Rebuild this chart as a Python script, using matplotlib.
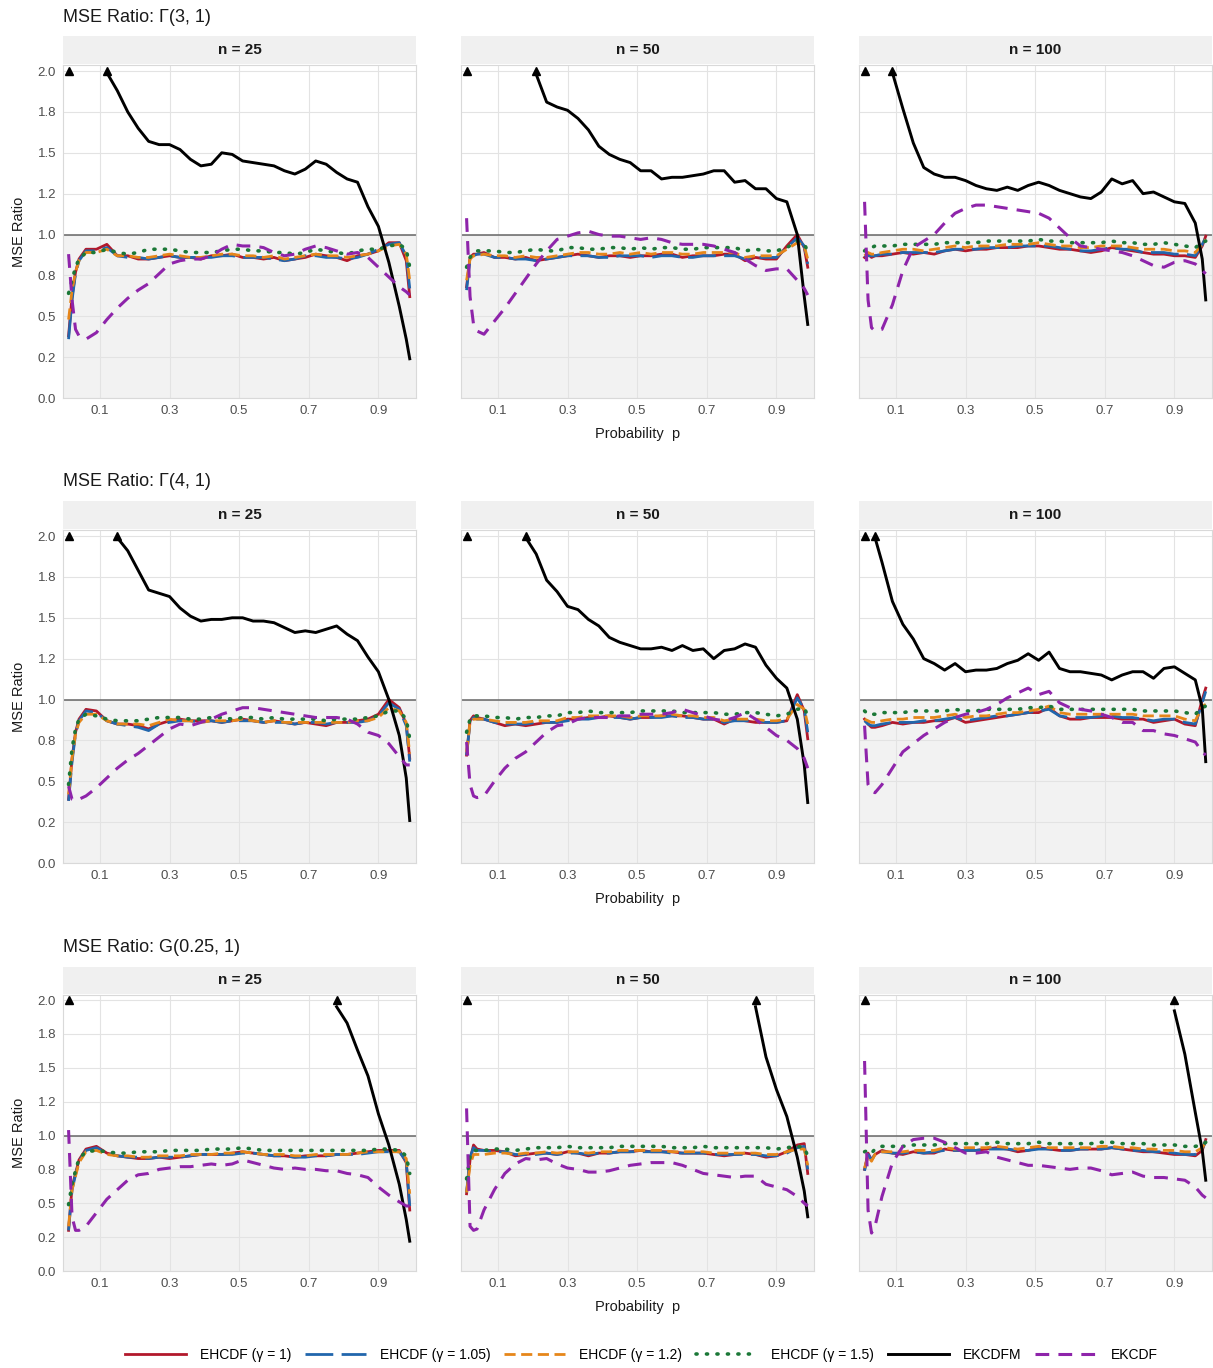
import matplotlib
matplotlib.use('Agg')
import matplotlib.pyplot as plt
from matplotlib import font_manager
from matplotlib.font_manager import FontProperties
from matplotlib.lines import Line2D

# fonts
names = {f.name for f in font_manager.fontManager.ttflist}
main_font = 'Liberation Sans' if 'Liberation Sans' in names else 'DejaVu Sans'
narrow_font = 'Liberation Sans Narrow' if 'Liberation Sans Narrow' in names else main_font
plt.rcParams['font.family'] = [main_font, 'DejaVu Sans']

# probability grid shared by every curve
P = [0.01, 0.02, 0.03, 0.04, 0.06, 0.09, 0.12, 0.15, 0.18, 0.21, 0.24, 0.27, 0.30,
     0.33, 0.36, 0.39, 0.42, 0.45, 0.48, 0.51, 0.54, 0.57, 0.60, 0.63, 0.66, 0.69,
     0.72, 0.75, 0.78, 0.81, 0.84, 0.87, 0.90, 0.93, 0.96, 0.98, 0.99]

# ---- Gamma(3, 1) ----
g31_n25_h100 = [0.38, 0.62, 0.77, 0.85, 0.91, 0.91, 0.94, 0.87, 0.87, 0.85, 0.85, 0.86, 0.87, 0.86, 0.86, 0.85, 0.87, 0.87, 0.88, 0.86, 0.86, 0.85, 0.86, 0.84, 0.85, 0.86, 0.88, 0.87, 0.86, 0.84, 0.87, 0.88, 0.90, 0.95, 0.95, 0.84, 0.62]
g31_n25_h105 = [0.36, 0.60, 0.76, 0.84, 0.90, 0.90, 0.92, 0.87, 0.86, 0.86, 0.85, 0.86, 0.87, 0.86, 0.86, 0.86, 0.86, 0.87, 0.87, 0.86, 0.86, 0.86, 0.85, 0.84, 0.85, 0.87, 0.87, 0.86, 0.86, 0.85, 0.86, 0.88, 0.91, 0.94, 0.95, 0.87, 0.67]
g31_n25_h120 = [0.48, 0.66, 0.77, 0.84, 0.89, 0.89, 0.91, 0.87, 0.87, 0.86, 0.86, 0.87, 0.88, 0.87, 0.86, 0.86, 0.87, 0.88, 0.88, 0.87, 0.87, 0.86, 0.87, 0.85, 0.86, 0.87, 0.88, 0.87, 0.87, 0.86, 0.87, 0.88, 0.90, 0.93, 0.94, 0.88, 0.72]
g31_n25_h150 = [0.64, 0.72, 0.80, 0.85, 0.89, 0.89, 0.91, 0.89, 0.88, 0.89, 0.91, 0.91, 0.91, 0.90, 0.89, 0.89, 0.89, 0.90, 0.91, 0.91, 0.90, 0.90, 0.89, 0.89, 0.88, 0.89, 0.91, 0.90, 0.89, 0.88, 0.90, 0.91, 0.91, 0.93, 0.94, 0.91, 0.80]
g31_n25_ekcdfm = [1.99, 1.88, 1.75, 1.65, 1.57, 1.55, 1.55, 1.52, 1.46, 1.42, 1.43, 1.50, 1.49, 1.45, 1.44, 1.43, 1.42, 1.39, 1.37, 1.40, 1.45, 1.43, 1.38, 1.34, 1.32, 1.17, 1.05, 0.83, 0.56, 0.36, 0.24]
g31_n25_ekcdf = [0.88, 0.60, 0.42, 0.38, 0.36, 0.40, 0.48, 0.55, 0.61, 0.66, 0.70, 0.76, 0.82, 0.84, 0.85, 0.85, 0.87, 0.91, 0.94, 0.93, 0.93, 0.92, 0.89, 0.87, 0.88, 0.91, 0.93, 0.92, 0.90, 0.88, 0.89, 0.86, 0.80, 0.74, 0.68, 0.65, 0.63]

g31_n50_h100 = [0.68, 0.86, 0.88, 0.88, 0.89, 0.86, 0.86, 0.85, 0.86, 0.84, 0.85, 0.86, 0.87, 0.88, 0.87, 0.86, 0.87, 0.87, 0.86, 0.87, 0.87, 0.88, 0.88, 0.86, 0.87, 0.87, 0.87, 0.88, 0.88, 0.84, 0.86, 0.85, 0.85, 0.93, 1.00, 0.92, 0.80]
g31_n50_h105 = [0.66, 0.85, 0.87, 0.88, 0.88, 0.86, 0.86, 0.85, 0.85, 0.84, 0.85, 0.86, 0.87, 0.87, 0.87, 0.86, 0.86, 0.87, 0.87, 0.87, 0.86, 0.87, 0.87, 0.86, 0.86, 0.87, 0.87, 0.87, 0.87, 0.85, 0.86, 0.86, 0.86, 0.92, 0.98, 0.93, 0.82]
g31_n50_h120 = [0.72, 0.85, 0.87, 0.87, 0.88, 0.87, 0.87, 0.86, 0.87, 0.86, 0.86, 0.87, 0.88, 0.89, 0.89, 0.88, 0.88, 0.89, 0.88, 0.89, 0.88, 0.89, 0.89, 0.88, 0.88, 0.89, 0.89, 0.89, 0.89, 0.86, 0.87, 0.87, 0.87, 0.91, 0.95, 0.93, 0.85]
g31_n50_h150 = [0.80, 0.86, 0.89, 0.90, 0.90, 0.90, 0.89, 0.89, 0.90, 0.91, 0.90, 0.90, 0.92, 0.92, 0.91, 0.91, 0.92, 0.92, 0.91, 0.92, 0.91, 0.92, 0.92, 0.91, 0.91, 0.92, 0.92, 0.92, 0.92, 0.90, 0.91, 0.90, 0.90, 0.92, 0.96, 0.94, 0.90]
g31_n50_ekcdfm = [1.98, 1.81, 1.78, 1.76, 1.71, 1.64, 1.54, 1.49, 1.46, 1.44, 1.39, 1.39, 1.34, 1.35, 1.35, 1.36, 1.37, 1.39, 1.39, 1.32, 1.33, 1.28, 1.28, 1.22, 1.20, 1.00, 0.62, 0.45]
g31_n50_ekcdf = [1.10, 0.62, 0.45, 0.41, 0.39, 0.47, 0.55, 0.64, 0.73, 0.82, 0.90, 0.97, 0.99, 1.01, 1.02, 1.00, 0.99, 0.99, 0.98, 0.97, 0.98, 0.97, 0.95, 0.94, 0.94, 0.94, 0.93, 0.91, 0.89, 0.85, 0.81, 0.78, 0.79, 0.79, 0.72, 0.67, 0.63]

g31_n100_h100 = [0.86, 0.88, 0.86, 0.87, 0.87, 0.88, 0.89, 0.88, 0.89, 0.88, 0.90, 0.91, 0.90, 0.91, 0.91, 0.92, 0.92, 0.92, 0.93, 0.93, 0.92, 0.91, 0.91, 0.90, 0.89, 0.90, 0.92, 0.91, 0.90, 0.89, 0.88, 0.88, 0.87, 0.87, 0.86, 0.93, 0.99]
g31_n100_h105 = [0.86, 0.87, 0.87, 0.87, 0.88, 0.88, 0.89, 0.89, 0.89, 0.89, 0.90, 0.91, 0.91, 0.91, 0.92, 0.92, 0.92, 0.93, 0.93, 0.93, 0.93, 0.92, 0.91, 0.90, 0.90, 0.91, 0.92, 0.91, 0.91, 0.89, 0.89, 0.89, 0.88, 0.88, 0.87, 0.94, 0.98]
g31_n100_h120 = [0.87, 0.89, 0.88, 0.88, 0.89, 0.90, 0.91, 0.91, 0.90, 0.91, 0.92, 0.93, 0.92, 0.93, 0.93, 0.93, 0.94, 0.94, 0.94, 0.95, 0.94, 0.93, 0.93, 0.92, 0.92, 0.93, 0.93, 0.93, 0.92, 0.91, 0.91, 0.91, 0.90, 0.90, 0.89, 0.94, 0.97]
g31_n100_h150 = [0.90, 0.92, 0.92, 0.93, 0.93, 0.93, 0.94, 0.94, 0.94, 0.94, 0.95, 0.95, 0.95, 0.95, 0.96, 0.96, 0.96, 0.96, 0.96, 0.97, 0.96, 0.96, 0.95, 0.95, 0.95, 0.95, 0.96, 0.95, 0.95, 0.94, 0.94, 0.95, 0.94, 0.93, 0.92, 0.95, 0.96]
g31_n100_ekcdfm = [1.99, 1.77, 1.56, 1.41, 1.37, 1.35, 1.35, 1.33, 1.30, 1.28, 1.27, 1.29, 1.27, 1.30, 1.32, 1.30, 1.27, 1.25, 1.23, 1.22, 1.26, 1.34, 1.31, 1.33, 1.25, 1.26, 1.23, 1.20, 1.19, 1.07, 0.85, 0.60]
g31_n100_ekcdf = [1.20, 0.60, 0.43, 0.41, 0.42, 0.57, 0.78, 0.92, 0.96, 1.00, 1.07, 1.13, 1.16, 1.18, 1.18, 1.17, 1.16, 1.15, 1.14, 1.13, 1.10, 1.04, 0.98, 0.93, 0.92, 0.91, 0.90, 0.89, 0.87, 0.84, 0.81, 0.80, 0.83, 0.84, 0.82, 0.78, 0.76]

# ---- Gamma(4, 1) ----
g41_n25_h100 = [0.39, 0.64, 0.80, 0.88, 0.94, 0.93, 0.87, 0.85, 0.85, 0.84, 0.82, 0.85, 0.87, 0.88, 0.87, 0.87, 0.87, 0.86, 0.87, 0.88, 0.87, 0.86, 0.87, 0.86, 0.85, 0.86, 0.85, 0.84, 0.86, 0.86, 0.87, 0.88, 0.91, 1.00, 0.95, 0.85, 0.64]
g41_n25_h105 = [0.38, 0.62, 0.79, 0.87, 0.93, 0.92, 0.87, 0.85, 0.84, 0.83, 0.81, 0.85, 0.86, 0.87, 0.87, 0.86, 0.87, 0.86, 0.87, 0.87, 0.87, 0.86, 0.86, 0.86, 0.85, 0.86, 0.86, 0.85, 0.86, 0.86, 0.86, 0.87, 0.90, 0.98, 0.94, 0.84, 0.62]
g41_n25_h120 = [0.42, 0.64, 0.79, 0.86, 0.91, 0.91, 0.87, 0.85, 0.85, 0.85, 0.84, 0.86, 0.88, 0.87, 0.87, 0.86, 0.87, 0.87, 0.87, 0.88, 0.87, 0.86, 0.87, 0.86, 0.86, 0.86, 0.86, 0.86, 0.86, 0.86, 0.87, 0.87, 0.89, 0.95, 0.93, 0.86, 0.67]
g41_n25_h150 = [0.48, 0.70, 0.82, 0.88, 0.91, 0.90, 0.88, 0.87, 0.87, 0.87, 0.88, 0.89, 0.89, 0.89, 0.88, 0.88, 0.89, 0.89, 0.88, 0.89, 0.89, 0.88, 0.89, 0.88, 0.88, 0.88, 0.88, 0.87, 0.88, 0.88, 0.88, 0.89, 0.90, 0.93, 0.93, 0.88, 0.76]
g41_n25_ekcdfm = [1.99, 1.91, 1.79, 1.67, 1.65, 1.63, 1.56, 1.51, 1.48, 1.49, 1.49, 1.50, 1.50, 1.48, 1.48, 1.47, 1.44, 1.41, 1.42, 1.41, 1.43, 1.45, 1.40, 1.36, 1.26, 1.17, 1.00, 0.78, 0.52, 0.26]
g41_n25_ekcdf = [0.47, 0.39, 0.38, 0.39, 0.41, 0.46, 0.52, 0.58, 0.63, 0.67, 0.72, 0.77, 0.82, 0.85, 0.84, 0.86, 0.88, 0.91, 0.93, 0.95, 0.95, 0.94, 0.93, 0.92, 0.91, 0.90, 0.89, 0.89, 0.89, 0.88, 0.85, 0.80, 0.78, 0.73, 0.65, 0.60, 0.60]

g41_n50_h100 = [0.66, 0.87, 0.90, 0.89, 0.88, 0.86, 0.84, 0.85, 0.84, 0.85, 0.86, 0.86, 0.88, 0.88, 0.89, 0.89, 0.90, 0.89, 0.88, 0.89, 0.89, 0.90, 0.90, 0.90, 0.89, 0.88, 0.88, 0.85, 0.88, 0.87, 0.86, 0.86, 0.86, 0.87, 1.03, 0.93, 0.76]
g41_n50_h105 = [0.66, 0.86, 0.89, 0.88, 0.88, 0.86, 0.85, 0.85, 0.85, 0.86, 0.86, 0.86, 0.87, 0.88, 0.88, 0.89, 0.89, 0.89, 0.88, 0.89, 0.89, 0.89, 0.90, 0.89, 0.89, 0.88, 0.88, 0.86, 0.87, 0.87, 0.87, 0.86, 0.86, 0.87, 1.01, 0.94, 0.80]
g41_n50_h120 = [0.68, 0.86, 0.88, 0.88, 0.88, 0.87, 0.86, 0.86, 0.86, 0.87, 0.87, 0.87, 0.89, 0.89, 0.90, 0.90, 0.90, 0.90, 0.89, 0.90, 0.90, 0.90, 0.91, 0.90, 0.90, 0.89, 0.89, 0.87, 0.88, 0.88, 0.88, 0.87, 0.87, 0.88, 0.97, 0.94, 0.85]
g41_n50_h150 = [0.80, 0.88, 0.90, 0.90, 0.90, 0.89, 0.89, 0.88, 0.89, 0.89, 0.90, 0.90, 0.92, 0.92, 0.93, 0.92, 0.92, 0.92, 0.92, 0.93, 0.93, 0.93, 0.93, 0.92, 0.92, 0.92, 0.92, 0.91, 0.91, 0.92, 0.92, 0.91, 0.90, 0.91, 0.94, 0.95, 0.90]
g41_n50_ekcdfm = [1.99, 1.89, 1.73, 1.66, 1.57, 1.55, 1.49, 1.45, 1.38, 1.35, 1.33, 1.31, 1.31, 1.32, 1.30, 1.33, 1.30, 1.31, 1.25, 1.30, 1.31, 1.34, 1.32, 1.21, 1.13, 1.07, 0.88, 0.60, 0.37]
g41_n50_ekcdf = [0.74, 0.48, 0.41, 0.40, 0.41, 0.50, 0.58, 0.64, 0.68, 0.74, 0.80, 0.84, 0.85, 0.88, 0.89, 0.89, 0.89, 0.90, 0.90, 0.91, 0.91, 0.91, 0.92, 0.94, 0.92, 0.90, 0.88, 0.87, 0.89, 0.92, 0.88, 0.83, 0.78, 0.75, 0.70, 0.64, 0.58]

g41_n100_h100 = [0.88, 0.85, 0.83, 0.83, 0.84, 0.86, 0.85, 0.86, 0.86, 0.87, 0.87, 0.89, 0.86, 0.87, 0.88, 0.89, 0.90, 0.91, 0.92, 0.92, 0.95, 0.90, 0.88, 0.88, 0.89, 0.89, 0.89, 0.88, 0.88, 0.88, 0.86, 0.87, 0.88, 0.85, 0.84, 1.00, 1.07]
g41_n100_h105 = [0.87, 0.85, 0.84, 0.84, 0.85, 0.86, 0.86, 0.86, 0.87, 0.87, 0.88, 0.89, 0.87, 0.88, 0.89, 0.90, 0.90, 0.91, 0.92, 0.93, 0.94, 0.90, 0.89, 0.89, 0.89, 0.90, 0.90, 0.89, 0.89, 0.88, 0.87, 0.88, 0.88, 0.86, 0.85, 0.98, 1.05]
g41_n100_h120 = [0.88, 0.87, 0.86, 0.86, 0.87, 0.88, 0.88, 0.89, 0.89, 0.89, 0.90, 0.91, 0.89, 0.90, 0.90, 0.91, 0.92, 0.92, 0.93, 0.94, 0.96, 0.92, 0.91, 0.91, 0.91, 0.91, 0.91, 0.91, 0.91, 0.90, 0.90, 0.90, 0.90, 0.88, 0.87, 0.96, 0.97]
g41_n100_h150 = [0.93, 0.91, 0.91, 0.91, 0.92, 0.92, 0.92, 0.93, 0.93, 0.93, 0.93, 0.94, 0.93, 0.93, 0.94, 0.94, 0.94, 0.94, 0.95, 0.95, 0.96, 0.94, 0.94, 0.94, 0.94, 0.94, 0.94, 0.94, 0.94, 0.93, 0.93, 0.93, 0.93, 0.92, 0.91, 0.95, 0.96]
g41_n100_ekcdfm = [1.99, 1.84, 1.60, 1.46, 1.37, 1.25, 1.22, 1.18, 1.22, 1.17, 1.18, 1.18, 1.19, 1.22, 1.24, 1.28, 1.24, 1.29, 1.19, 1.17, 1.17, 1.16, 1.15, 1.12, 1.15, 1.17, 1.17, 1.13, 1.19, 1.20, 1.16, 1.12, 0.95, 0.62]
g41_n100_ekcdf = [0.84, 0.48, 0.44, 0.43, 0.48, 0.58, 0.68, 0.73, 0.78, 0.82, 0.86, 0.89, 0.91, 0.92, 0.94, 0.97, 1.01, 1.04, 1.07, 1.03, 1.05, 0.98, 0.95, 0.94, 0.93, 0.91, 0.89, 0.86, 0.86, 0.81, 0.81, 0.79, 0.78, 0.76, 0.74, 0.68, 0.66]

# ---- G(0.25, 1) ----
gu_n25_h100 = [0.30, 0.62, 0.72, 0.82, 0.90, 0.92, 0.87, 0.85, 0.84, 0.83, 0.83, 0.84, 0.83, 0.84, 0.85, 0.86, 0.86, 0.86, 0.87, 0.88, 0.87, 0.86, 0.85, 0.85, 0.84, 0.85, 0.85, 0.85, 0.86, 0.86, 0.87, 0.88, 0.89, 0.89, 0.89, 0.80, 0.45]
gu_n25_h105 = [0.30, 0.60, 0.71, 0.81, 0.89, 0.91, 0.87, 0.85, 0.84, 0.84, 0.83, 0.84, 0.84, 0.84, 0.85, 0.86, 0.86, 0.86, 0.86, 0.87, 0.87, 0.86, 0.85, 0.85, 0.84, 0.84, 0.85, 0.85, 0.86, 0.86, 0.86, 0.87, 0.88, 0.88, 0.88, 0.81, 0.48]
gu_n25_h120 = [0.33, 0.60, 0.70, 0.80, 0.88, 0.89, 0.86, 0.85, 0.85, 0.84, 0.84, 0.85, 0.85, 0.85, 0.86, 0.86, 0.86, 0.87, 0.87, 0.88, 0.87, 0.86, 0.86, 0.86, 0.85, 0.85, 0.86, 0.86, 0.86, 0.86, 0.87, 0.88, 0.88, 0.88, 0.88, 0.83, 0.57]
gu_n25_h150 = [0.49, 0.64, 0.74, 0.83, 0.88, 0.89, 0.88, 0.87, 0.87, 0.88, 0.88, 0.88, 0.89, 0.89, 0.89, 0.89, 0.90, 0.90, 0.90, 0.91, 0.90, 0.89, 0.89, 0.89, 0.89, 0.89, 0.89, 0.89, 0.89, 0.89, 0.89, 0.89, 0.90, 0.90, 0.89, 0.85, 0.72]
gu_n25_ekcdfm = [1.95, 1.83, 1.63, 1.44, 1.16, 0.93, 0.64, 0.38, 0.22]
gu_n25_ekcdf = [1.04, 0.40, 0.30, 0.30, 0.33, 0.43, 0.53, 0.60, 0.67, 0.71, 0.72, 0.75, 0.76, 0.77, 0.77, 0.78, 0.79, 0.78, 0.79, 0.82, 0.80, 0.78, 0.76, 0.75, 0.76, 0.75, 0.75, 0.74, 0.74, 0.72, 0.71, 0.69, 0.62, 0.56, 0.51, 0.48, 0.48]

gu_n50_h100 = [0.57, 0.82, 0.93, 0.90, 0.89, 0.89, 0.88, 0.85, 0.86, 0.87, 0.87, 0.86, 0.88, 0.87, 0.85, 0.87, 0.87, 0.88, 0.88, 0.89, 0.88, 0.88, 0.88, 0.87, 0.87, 0.87, 0.86, 0.85, 0.86, 0.87, 0.86, 0.84, 0.85, 0.88, 0.93, 0.94, 0.72]
gu_n50_h105 = [0.58, 0.84, 0.91, 0.89, 0.89, 0.88, 0.88, 0.86, 0.86, 0.86, 0.87, 0.86, 0.87, 0.87, 0.86, 0.87, 0.87, 0.88, 0.88, 0.88, 0.88, 0.88, 0.87, 0.87, 0.87, 0.87, 0.86, 0.86, 0.86, 0.86, 0.86, 0.85, 0.85, 0.87, 0.91, 0.92, 0.75]
gu_n50_h120 = [0.58, 0.78, 0.86, 0.86, 0.86, 0.87, 0.87, 0.86, 0.87, 0.87, 0.88, 0.87, 0.88, 0.88, 0.87, 0.88, 0.88, 0.89, 0.89, 0.89, 0.89, 0.89, 0.88, 0.88, 0.88, 0.88, 0.87, 0.87, 0.87, 0.87, 0.87, 0.86, 0.86, 0.88, 0.90, 0.90, 0.78]
gu_n50_h150 = [0.68, 0.84, 0.89, 0.89, 0.89, 0.90, 0.90, 0.89, 0.90, 0.91, 0.91, 0.91, 0.92, 0.91, 0.91, 0.91, 0.91, 0.92, 0.92, 0.92, 0.92, 0.92, 0.91, 0.91, 0.91, 0.92, 0.91, 0.91, 0.91, 0.91, 0.91, 0.91, 0.90, 0.91, 0.92, 0.91, 0.85]
gu_n50_ekcdfm = [1.95, 1.58, 1.34, 1.14, 0.84, 0.59, 0.40]
gu_n50_ekcdf = [1.20, 0.33, 0.30, 0.31, 0.45, 0.60, 0.72, 0.79, 0.83, 0.82, 0.83, 0.79, 0.76, 0.75, 0.73, 0.73, 0.74, 0.76, 0.78, 0.79, 0.80, 0.80, 0.80, 0.78, 0.75, 0.72, 0.71, 0.70, 0.69, 0.70, 0.70, 0.64, 0.62, 0.60, 0.55, 0.50, 0.48]

gu_n100_h100 = [0.75, 0.87, 0.82, 0.86, 0.89, 0.87, 0.86, 0.88, 0.87, 0.87, 0.90, 0.89, 0.89, 0.89, 0.90, 0.91, 0.90, 0.88, 0.89, 0.91, 0.90, 0.89, 0.89, 0.90, 0.90, 0.90, 0.91, 0.90, 0.89, 0.88, 0.88, 0.87, 0.86, 0.86, 0.85, 0.89, 0.97]
gu_n100_h105 = [0.74, 0.86, 0.82, 0.86, 0.88, 0.87, 0.87, 0.88, 0.87, 0.88, 0.89, 0.89, 0.89, 0.89, 0.90, 0.90, 0.90, 0.89, 0.89, 0.90, 0.90, 0.89, 0.89, 0.90, 0.90, 0.90, 0.91, 0.90, 0.89, 0.89, 0.88, 0.88, 0.87, 0.86, 0.86, 0.90, 0.96]
gu_n100_h120 = [0.76, 0.85, 0.81, 0.86, 0.88, 0.88, 0.88, 0.89, 0.89, 0.89, 0.91, 0.90, 0.91, 0.91, 0.91, 0.92, 0.91, 0.90, 0.91, 0.92, 0.91, 0.91, 0.91, 0.91, 0.91, 0.92, 0.92, 0.91, 0.91, 0.90, 0.90, 0.89, 0.89, 0.88, 0.88, 0.91, 0.95]
gu_n100_h150 = [0.88, 0.89, 0.87, 0.90, 0.92, 0.92, 0.92, 0.93, 0.93, 0.93, 0.94, 0.94, 0.94, 0.94, 0.94, 0.95, 0.94, 0.94, 0.94, 0.95, 0.94, 0.94, 0.94, 0.94, 0.94, 0.95, 0.95, 0.94, 0.94, 0.94, 0.93, 0.93, 0.93, 0.92, 0.92, 0.93, 0.95]
gu_n100_ekcdfm = [1.92, 1.60, 1.17, 0.89, 0.67]
gu_n100_ekcdf = [1.55, 0.45, 0.28, 0.33, 0.55, 0.80, 0.92, 0.97, 0.98, 0.98, 0.95, 0.91, 0.87, 0.87, 0.88, 0.84, 0.82, 0.80, 0.78, 0.78, 0.77, 0.76, 0.75, 0.76, 0.76, 0.74, 0.71, 0.72, 0.73, 0.70, 0.69, 0.69, 0.68, 0.67, 0.62, 0.56, 0.54]

row_titles = ['MSE Ratio: \u0393(3, 1)', 'MSE Ratio: \u0393(4, 1)', 'MSE Ratio: G(0.25, 1)']
sample_sizes = ['n = 25', 'n = 50', 'n = 100']
series_labels = ['EHCDF (\u03b3 = 1)', 'EHCDF (\u03b3 = 1.05)', 'EHCDF (\u03b3 = 1.2)',
                 'EHCDF (\u03b3 = 1.5)', 'EKCDFM', 'EKCDF']

panels = [
    [(g31_n25_h100, g31_n25_h105, g31_n25_h120, g31_n25_h150, g31_n25_ekcdfm, g31_n25_ekcdf),
     (g31_n50_h100, g31_n50_h105, g31_n50_h120, g31_n50_h150, g31_n50_ekcdfm, g31_n50_ekcdf),
     (g31_n100_h100, g31_n100_h105, g31_n100_h120, g31_n100_h150, g31_n100_ekcdfm, g31_n100_ekcdf)],
    [(g41_n25_h100, g41_n25_h105, g41_n25_h120, g41_n25_h150, g41_n25_ekcdfm, g41_n25_ekcdf),
     (g41_n50_h100, g41_n50_h105, g41_n50_h120, g41_n50_h150, g41_n50_ekcdfm, g41_n50_ekcdf),
     (g41_n100_h100, g41_n100_h105, g41_n100_h120, g41_n100_h150, g41_n100_ekcdfm, g41_n100_ekcdf)],
    [(gu_n25_h100, gu_n25_h105, gu_n25_h120, gu_n25_h150, gu_n25_ekcdfm, gu_n25_ekcdf),
     (gu_n50_h100, gu_n50_h105, gu_n50_h120, gu_n50_h150, gu_n50_ekcdfm, gu_n50_ekcdf),
     (gu_n100_h100, gu_n100_h105, gu_n100_h120, gu_n100_h150, gu_n100_ekcdfm, gu_n100_ekcdf)],
]

# line styles per series
styles = [
    dict(color='#B2182B', linestyle='-', linewidth=2.0),
    dict(color='#2166AC', linestyle=(0, (10, 3)), linewidth=2.0),
    dict(color='#E6861A', linestyle=(0, (4, 2)), linewidth=2.0),
    dict(color='#1B7837', linestyle=(0, (0.3, 2.6)), linewidth=2.6, dash_capstyle='round'),
    dict(color='#000000', linestyle='-', linewidth=2.1),
    dict(color='#8E24AA', linestyle=(0, (4.5, 3)), linewidth=2.2),
]

W, H = 1213, 1368
fig = plt.figure(figsize=(W / 100, H / 100), dpi=100)

col_left = [63, 461, 859]
panel_w = 353
row_pix = [(36, 65, 398), (501, 530, 863), (967, 995, 1271)]  # strip top, plot top, plot bottom
title_y = [17, 482, 947]
YMAX = 2.0

for r in range(3):
    s_top, p_top, p_bot = row_pix[r]
    fig.text(63 / W, 1 - title_y[r] / H, row_titles[r], fontsize=13, color='#1a1a1a',
             ha='left', va='center')
    for c in range(3):
        left = col_left[c] / W
        ax = fig.add_axes([left, 1 - p_bot / H, panel_w / W, (p_bot - p_top) / H])
        strip = fig.add_axes([left, 1 - (p_top - 1) / H, panel_w / W, (p_top - 1 - s_top) / H])
        strip.set_facecolor('#F0F0F0')
        strip.set_xticks([])
        strip.set_yticks([])
        for sp in strip.spines.values():
            sp.set_visible(False)
        strip.text(0.5, 0.5, sample_sizes[c], fontsize=11, fontweight='bold', color='#1a1a1a',
                   ha='center', va='center', transform=strip.transAxes)

        ax.axhspan(0, 1, color='#F2F2F2', zorder=0.1, linewidth=0)
        ax.set_axisbelow(True)
        ax.grid(True, color='#E3E3E3', linewidth=0.8)
        ax.axhline(1.0, color='#666666', linewidth=1.1, zorder=1.5)

        data = panels[r][c]
        for k, vals in enumerate(data):
            xs = P[len(P) - len(vals):]
            ax.plot(xs, vals, zorder=2 + k * 0.1, **styles[k])

        # markers where the EKCDFM ratio leaves the plotted range
        ekcdfm = data[4]
        first_p = P[len(P) - len(ekcdfm)]
        ax.plot([P[0], first_p], [YMAX, YMAX], linestyle='none', marker='^',
                color='black', markersize=5.5, zorder=4, clip_on=False)

        ax.set_xlim(-0.006, 1.008)
        ax.set_ylim(0, 2.037)
        ax.set_xticks([0.1, 0.3, 0.5, 0.7, 0.9])
        ax.set_xticklabels(['0.1', '0.3', '0.5', '0.7', '0.9'])
        yt = [0, 0.25, 0.5, 0.75, 1.0, 1.25, 1.5, 1.75, 2.0]
        ax.set_yticks(yt)
        if c == 0:
            ax.set_yticklabels(['%.1f' % v for v in yt])
            ax.set_ylabel('MSE Ratio', fontsize=10.5, color='#1a1a1a', labelpad=8)
        else:
            ax.set_yticklabels([])
        if c == 1:
            ax.set_xlabel('Probability  p', fontsize=10.5, color='#1a1a1a', labelpad=7)
        ax.tick_params(length=0, labelsize=9.5, labelcolor='#4D4D4D', pad=5)
        for sp in ax.spines.values():
            sp.set_color('#D9D9D9')
            sp.set_linewidth(0.8)

handles = [Line2D([0], [0], **st) for st in styles]
fig.legend(handles, series_labels, loc='center', bbox_to_anchor=(641 / W, 1 - 1355 / H),
           ncol=6, frameon=False, handlelength=4.4, handletextpad=1.0, columnspacing=1.0,
           prop=FontProperties(family=narrow_font, size=10))

fig.savefig('out.png', dpi=100)
